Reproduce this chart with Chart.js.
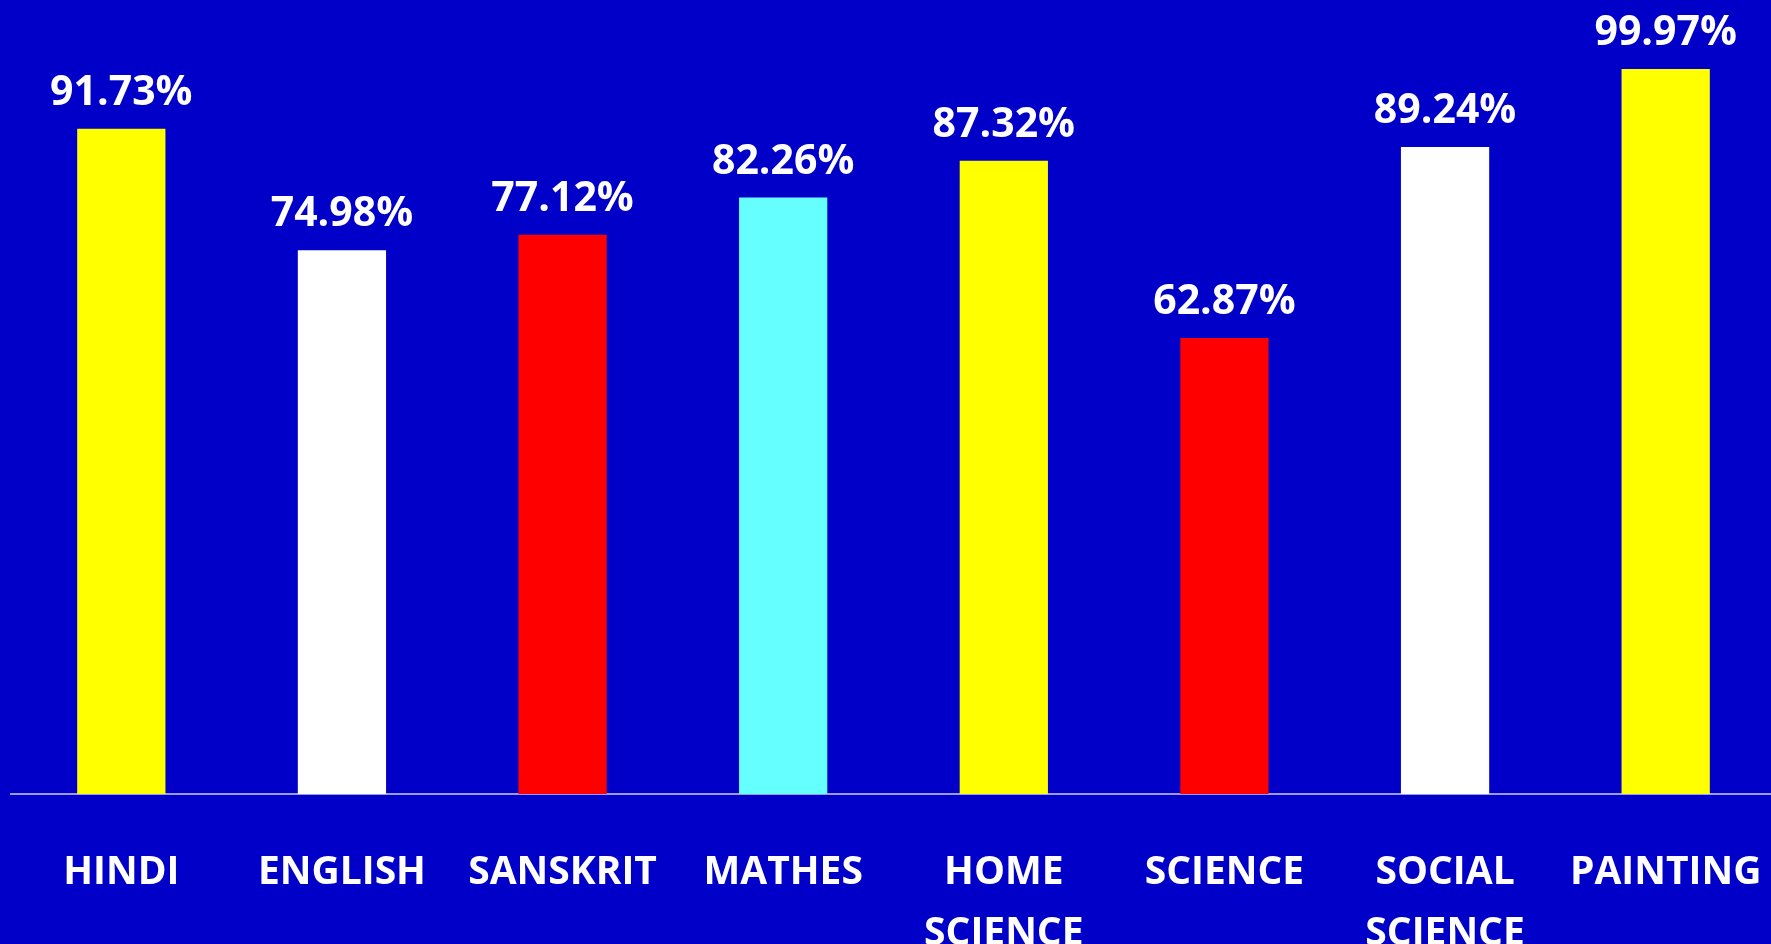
<!DOCTYPE html>
<html>
<head>
<meta charset="utf-8">
<script src="https://cdn.jsdelivr.net/npm/chart.js@4"></script>
<style>
  html, body { margin: 0; padding: 0; background: #0000c8; overflow: hidden; }
  canvas { display: block; }
</style>
</head>
<body>
<!-- a few px wider than the window: the original plot runs off the right edge -->
<canvas id="resultChart" width="1776" height="944"></canvas>
<script>
const SUBJECTS = [
  "HINDI",
  "ENGLISH",
  "SANSKRIT",
  "MATHES",
  ["HOME", "SCIENCE"],
  "SCIENCE",
  ["SOCIAL", "SCIENCE"],
  "PAINTING",
];
const PASS_PERCENT = [91.73, 74.98, 77.12, 82.26, 87.32, 62.87, 89.24, 99.97];
const BAR_COLORS = ["#ffff00", "#ffffff", "#ff0000", "#66ffff", "#ffff00", "#ff0000", "#ffffff", "#ffff00"];

const FONT = "'Open Sans', 'DejaVu Sans', sans-serif";

// draws the "91.73%" text over each bar, using the bar element positions
const valueLabels = {
  id: "valueLabels",
  afterDatasetsDraw(chart) {
    const ctx = chart.ctx;
    const meta = chart.getDatasetMeta(0);
    ctx.save();
    ctx.fillStyle = "#ffffff";
    ctx.font = `bold 41px ${FONT}`;
    ctx.textAlign = "center";
    ctx.textBaseline = "alphabetic";
    meta.data.forEach((bar, i) => {
      ctx.fillText(PASS_PERCENT[i].toFixed(2) + "%", bar.x, bar.y - 24);
    });
    ctx.restore();
  },
};

new Chart(document.getElementById("resultChart"), {
  type: "bar",
  data: {
    labels: SUBJECTS,
    datasets: [{
      data: PASS_PERCENT,
      backgroundColor: BAR_COLORS,
      borderWidth: 0,
      barPercentage: 0.4,
      categoryPercentage: 1,
    }],
  },
  options: {
    responsive: false,
    animation: false,
    devicePixelRatio: 1,
    layout: { padding: { left: 11, right: 0, top: 0, bottom: 0 } },
    plugins: { legend: { display: false }, tooltip: { enabled: false } },
    scales: {
      y: { display: false, min: 0, max: 109.5 },
      x: {
        grid: { display: false, drawTicks: false },
        border: { display: true, color: "#9a9af0", width: 2 },
        ticks: {
          color: "#ffffff",
          padding: 49,
          maxRotation: 0,
          autoSkip: false,
          font: { family: FONT, size: 39, weight: "bold", lineHeight: 1.55 },
        },
        afterFit: (scale) => {
          // keep the full width: tick padding is only meant vertically here
          scale.height = 150;
          scale.paddingLeft = 0;
          scale.paddingRight = 0;
        },
      },
    },
  },
  plugins: [valueLabels],
});
</script>
</body>
</html>
